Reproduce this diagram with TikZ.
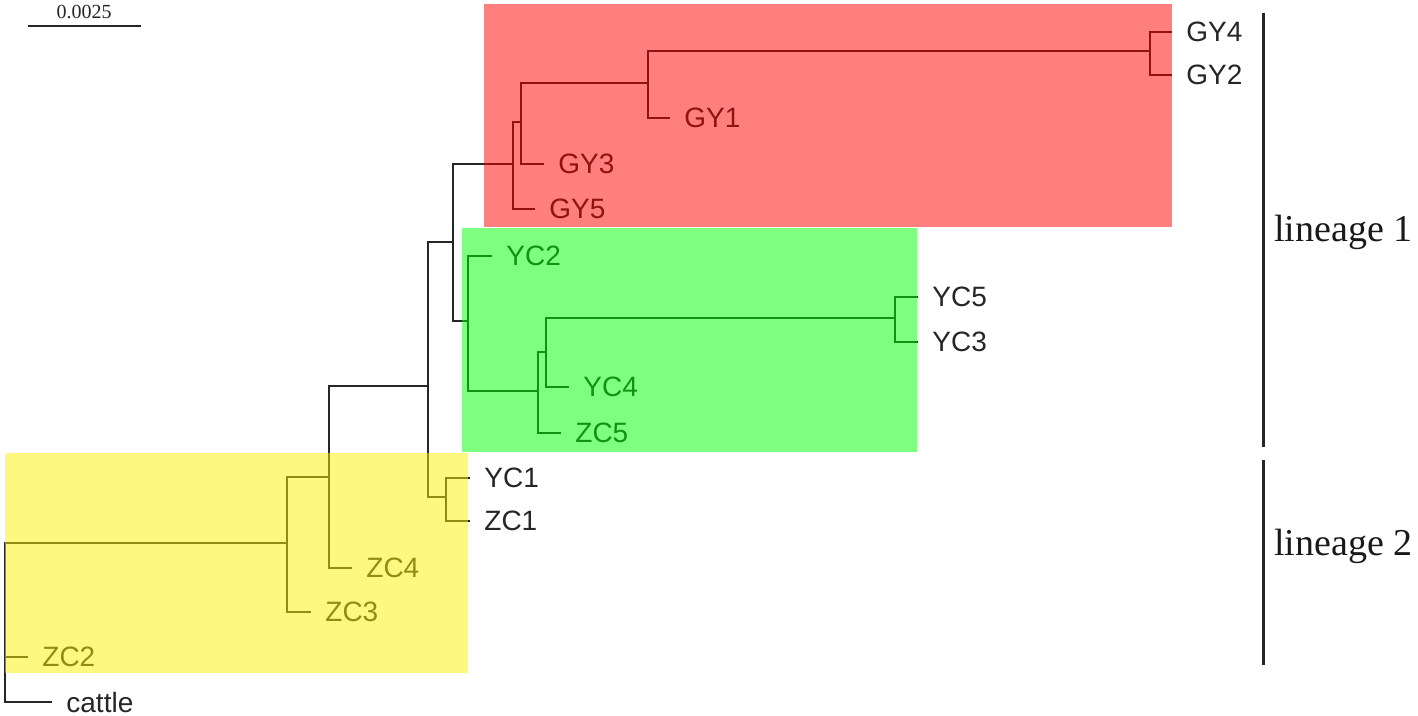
\documentclass[tikz,border=0pt]{standalone}
\usepackage{fontspec}
\setmainfont{Liberation Serif}
\newfontfamily\leaffont{Liberation Sans}
\usetikzlibrary{calc,positioning}

\begin{document}
\begin{tikzpicture}[x=0.5pt, y=-0.5pt,
    branch/.style={draw, black!85, line width=1.35pt, line join=miter},
    leaf/.style={anchor=west, inner xsep=7pt, inner ysep=0pt, text=black!85, font=\leaffont\fontsize{14}{16}\selectfont, yshift=-1pt},
    clade/.style={fill opacity=0.5},
    lineage/.style={anchor=base west, inner sep=0pt, text=black!90, font=\fontsize{19}{22}\selectfont}]
    \useasboundingbox(0,0)rectangle(1418,716);
    % leaves
    \node[leaf](GY4)at(1172,30){GY4};
    \node[leaf](GY2)at(1172,73){GY2};
    \node[leaf](GY1)at(670,116){GY1};
    \node[leaf](GY3)at(544,162){GY3};
    \node[leaf](GY5)at(535,207){GY5};
    \node[leaf](YC2)at(492,254){YC2};
    \node[leaf](YC5)at(918,295){YC5};
    \node[leaf](YC3)at(918,340){YC3};
    \node[leaf](YC4)at(569,385){YC4};
    \node[leaf](ZC5)at(561,431){ZC5};
    \node[leaf](YC1)at(470,476){YC1};
    \node[leaf](ZC1)at(470,519){ZC1};
    \node[leaf](ZC4)at(352,566){ZC4};
    \node[leaf](ZC3)at(311,610){ZC3};
    \node[leaf](ZC2)at(28,655){ZC2};
    \node[leaf](cattle)at(52,700){cattle};
    % inner nodes
    \coordinate(root)at(5,620);
    \coordinate(nZC)at(287,543);
    \coordinate(nA)at(329,477);
    \coordinate(nB)at(428,386);
    \coordinate(nD)at(446,497);
    \coordinate(nC)at(453,242);
    \coordinate(nRed)at(513,164);
    \coordinate(n1)at(521,122);
    \coordinate(n2)at(648,83);
    \coordinate(n3)at(1150,51);
    \coordinate(nGreen)at(468,321);
    \coordinate(n4)at(538,391);
    \coordinate(n5)at(546,352);
    \coordinate(n6)at(895,318);
    % branches
    \path[branch](root)|-(nZC) (root)|-(ZC2.west) (root)|-(cattle.west);
    \path[branch](nZC)|-(nA) (nZC)|-(ZC3.west);
    \path[branch](nA)|-(nB) (nA)|-(ZC4.west);
    \path[branch](nB)|-(nC) (nB)|-(nD);
    \path[branch](nD)|-(YC1.west) (nD)|-(ZC1.west);
    \path[branch](nC)|-(nRed) (nC)|-(nGreen);
    \path[branch](nRed)|-(n1) (nRed)|-(GY5.west);
    \path[branch](n1)|-(n2) (n1)|-(GY3.west);
    \path[branch](n2)|-(n3) (n2)|-(GY1.west);
    \path[branch](n3)|-(GY4.west) (n3)|-(GY2.west);
    \path[branch](nGreen)|-(YC2.west) (nGreen)|-(n4);
    \path[branch](n4)|-(n5) (n4)|-(ZC5.west);
    \path[branch](n5)|-(n6) (n5)|-(YC4.west);
    \path[branch](n6)|-(YC5.west) (n6)|-(YC3.west);
    % clades
    \fill[red, clade](484,4)rectangle(1172,227);
    \fill[green, clade](462,228)rectangle(917,452);
    \fill[yellow, clade](5,453)rectangle(468,673);
    % lineages
    \coordinate(L1top)at(1263,13);
    \coordinate(L1bot)at(1263,447);
    \coordinate(L2top)at(1263,460);
    \coordinate(L2bot)at(1263,665);
    \path[draw, black!85, line width=1.5pt](L1top)to(L1bot);
    \path[draw, black!85, line width=1.5pt](L2top)to(L2bot);
    \node[lineage](lin1)at(1274,242){lineage 1};
    \node[lineage](lin2)at(1274,555){lineage 2};
    % scale
    \coordinate(S0)at(28,26);
    \coordinate(S1)at(141,26);
    \path[draw, black!85, line width=1.4pt](S0)to(S1);
    \node[anchor=base, inner sep=0pt, text=black!85, font=\fontsize{10}{12}\selectfont](sc)at(84,19){0.0025};
\end{tikzpicture}
\end{document}
